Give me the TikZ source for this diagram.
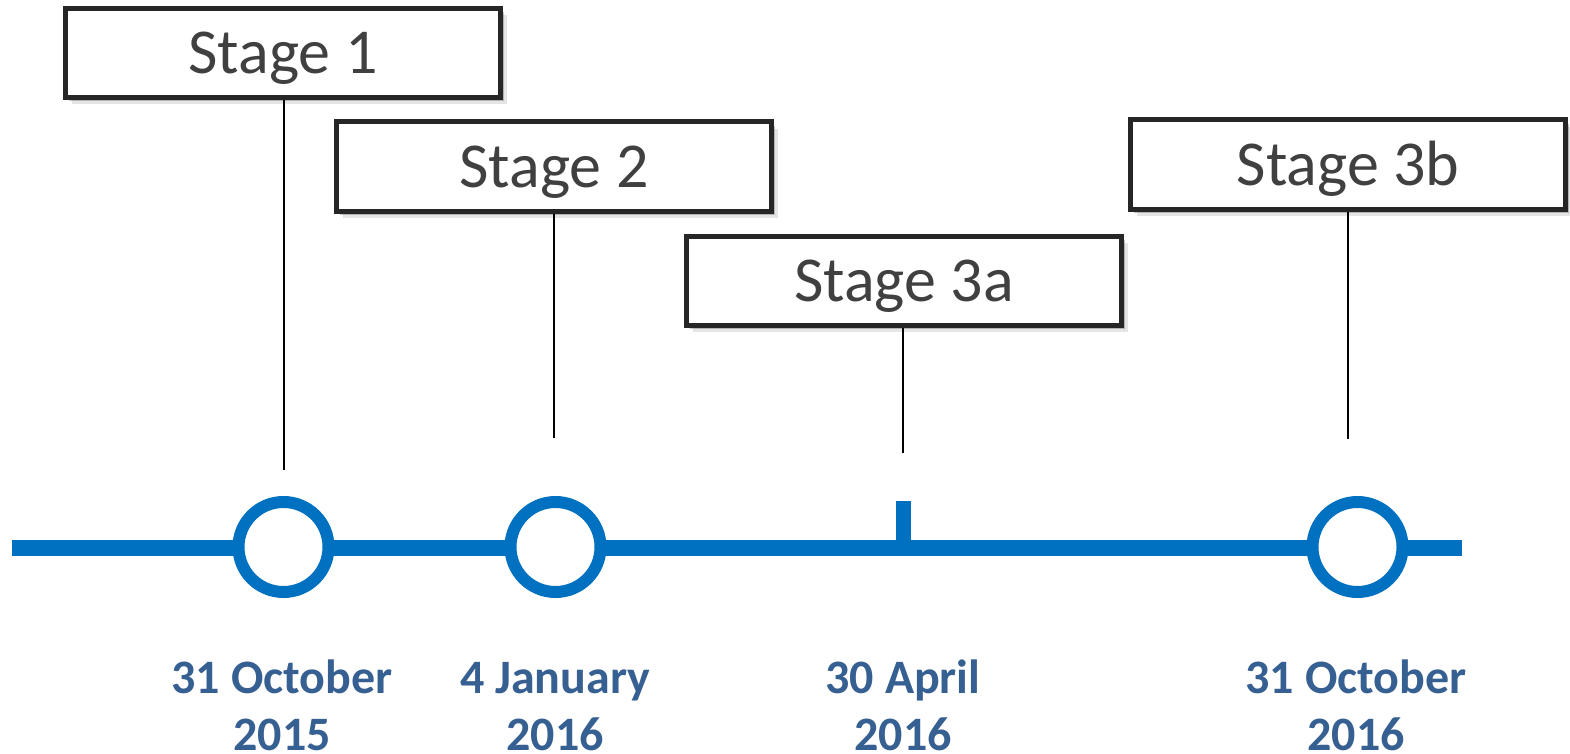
\documentclass[tikz,border=0pt]{standalone}
\usepackage{fontspec}
\setmainfont{Carlito}
\usetikzlibrary{shadows}
\definecolor{tlblue}{RGB}{0,112,192}
\definecolor{datecol}{RGB}{55,96,146}
\definecolor{boxline}{RGB}{38,38,38}
\definecolor{boxtext}{RGB}{64,64,64}
\begin{document}
\begin{tikzpicture}[x=1pt,y=-1pt,
  stagebox/.style={draw=boxline, line width=5pt, fill=white,
    minimum width=435pt, minimum height=89pt, inner sep=0pt,
    text=boxtext, font=\fontsize{64}{70}\selectfont,
    text height=42pt, text depth=0pt,
    drop shadow={shadow xshift=3pt, shadow yshift=-4pt, fill=black, opacity=0.22},
    drop shadow={shadow xshift=6pt, shadow yshift=-7pt, fill=black, opacity=0.10}},
  conn/.style={draw=black, line width=2pt},
  ring/.style={circle, draw=tlblue, line width=12pt, fill=white,
    minimum size=90pt, inner sep=0pt},
  axis/.style={draw=tlblue, line width=16pt},
  tick/.style={draw=tlblue, line width=15pt},
  datelabel/.style={text=datecol, align=center, inner sep=0pt,
    font=\bfseries\fontsize{48}{57}\selectfont}]
\useasboundingbox (0,0) rectangle (1570,754);

% timeline
\coordinate (tlL) at (12,548);
\coordinate (tlR) at (1462,548);
\draw[axis] (tlL) -- (tlR);
\coordinate (tk) at (903.5,548);
\coordinate (tktop) at (903.5,501);
\draw[tick] (tk) -- (tktop);

% milestones
\node[ring] (c1) at (283.5,547) {};
\node[ring] (c2) at (555.5,547) {};
\node[ring] (c3) at (1357.5,547) {};

% stage boxes
\node[stagebox] (s1) at (283,53) {Stage 1};
\node[stagebox] (s2) at (554,166.5) {Stage 2};
\node[stagebox] (s3a) at (904,280.5) {Stage 3a};
\node[stagebox] (s3b) at (1348,164.5) {Stage 3b};

% connector ends
\coordinate (e1) at (284,470);
\coordinate (e2) at (554,438);
\coordinate (e3a) at (903,453);
\coordinate (e3b) at (1348,439);
\draw[conn] (e1 |- s1.south) -- (e1);
\draw[conn] (e2 |- s2.south) -- (e2);
\draw[conn] (e3a |- s3a.south) -- (e3a);
\draw[conn] (e3b |- s3b.south) -- (e3b);

% dates
\node[datelabel, anchor=base] (d1) at (282,750) {31 October\\2015};
\node[datelabel, anchor=base] (d2) at (555,750) {4 January\\2016};
\node[datelabel, anchor=base] (d3) at (903,750) {30 April\\2016};
\node[datelabel, anchor=base] (d4) at (1356,750) {31 October\\2016};
\end{tikzpicture}
\end{document}
